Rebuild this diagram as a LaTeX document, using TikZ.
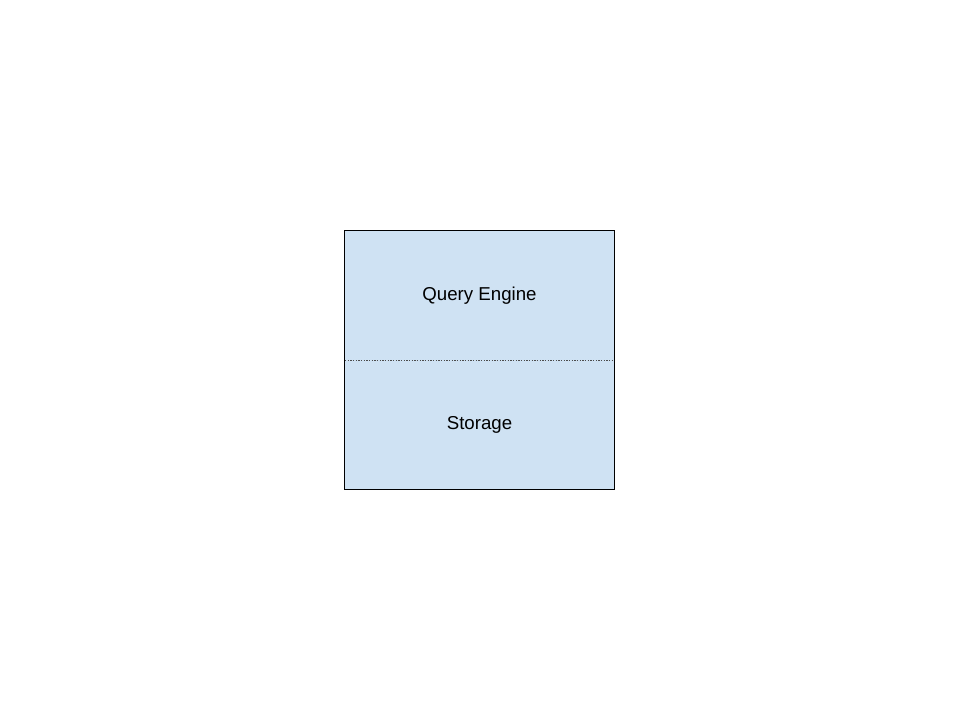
\documentclass[tikz,border=0pt]{standalone}
\usepackage{fontspec}
\setmainfont{Liberation Sans}
\usepackage{tikz}
\usetikzlibrary{positioning}
\definecolor{layerblue}{HTML}{CFE2F3}

\begin{document}
\begin{tikzpicture}[
            x=0.75pt,y=-0.75pt,
            layer/.style={fill=layerblue,rectangle,minimum width=201.5pt,minimum height=97.1pt,inner sep=0pt,node distance=97.1pt,font=\fontsize{14}{17}\selectfont},
            split/.style={draw=black!70,dash pattern=on 1pt off 1pt,line width=.6pt},
            frame/.style={draw,line width=.75pt}
          ]
          \useasboundingbox (0,0) rectangle (960,720);
          %layers
          \node[layer] (query) at (479.5,295.5) {Query Engine};
          \node[below of = query,layer] (storage) {\raisebox{-2pt}{Storage}};

          %outline
          \path[frame] (query.north west) rectangle (storage.south east);
          \path[split] (query.south west) -- (query.south east);

      \end{tikzpicture}
\end{document}
